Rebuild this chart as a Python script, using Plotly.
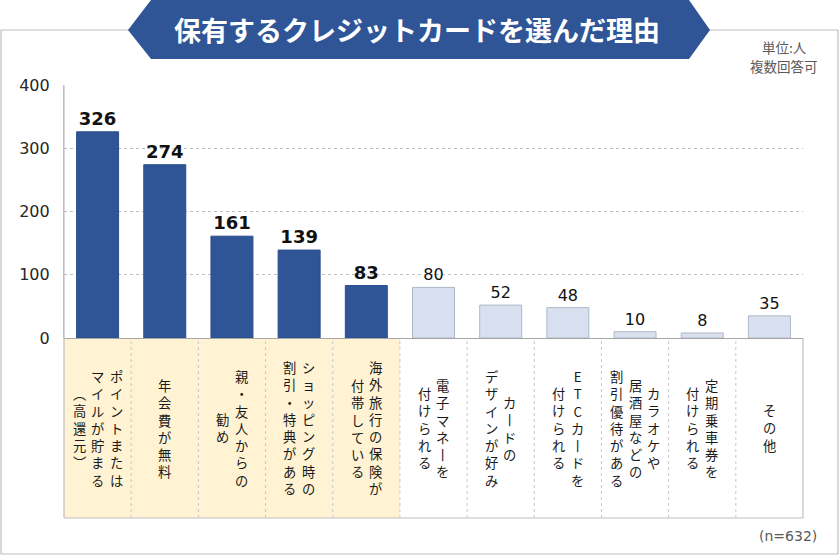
import plotly.graph_objects as go

# ---- data ----
labels = [
    "ポイントまたは\nマイルが貯まる\n（高還元）",
    "年会費が無料",
    "親・友人からの\n勧め",
    "ショッピング時の\n割引・特典がある",
    "海外旅行の保険が\n付帯している",
    "電子マネーを\n付けられる",
    "カードの\nデザインが好み",
    "ETCカードを\n付けられる",
    "カラオケや\n居酒屋などの\n割引優待がある",
    "定期乗車券を\n付けられる",
    "その他",
]
values = [326, 274, 161, 139, 83, 80, 52, 48, 10, 8, 35]
highlight = [True, True, True, True, True, False, False, False, False, False, False]
y_ticks = [0, 100, 200, 300, 400]
title_text = "保有するクレジットカードを選んだ理由"
unit_lines = ["単位:人", "複数回答可"]
n_text = "(n=632)"

# ---- style ----
DARK = "#2F5597"
LIGHT = "#D9E1F0"
YELLOW = "#FFF3D3"
GRID = "#BFBFBF"
JP = "Noto Sans CJK JP"
NUM = "DejaVu Sans"

W_PX, H_PX = 840, 556
L, R, T, B = 64, 803, 85, 338


def px(x):
    return (x - L) / (R - L)


def py(y):
    return (B - y) / (B - T)


cats = [s.replace("\n", "") for s in labels]

fig = go.Figure()
fig.add_trace(go.Bar(
    x=cats,
    y=values,
    marker=dict(
        color=[DARK if h else LIGHT for h in highlight],
        line=dict(color=["#2A4F8E" if h else "#AEB7C6" for h in highlight], width=1),
    ),
    text=[str(v) for v in values],
    textposition="outside",
    cliponaxis=False,
    textfont=dict(
        family=NUM,
        size=[18 if h else 16 for h in highlight],
        weight=["bold" if h else "normal" for h in highlight],
        color="#111111",
    ),
    hoverinfo="skip",
))

shapes = []
annotations = []

# outer frame
shapes.append(dict(type="rect", xref="paper", yref="paper",
                   x0=px(1), x1=px(838), y0=py(554), y1=py(30),
                   line=dict(color="#BFBFBF", width=1.2), layer="below"))

# title banner
path = (f"M {px(128)},{py(30)} L {px(151)},{py(0)} L {px(689)},{py(0)} "
        f"L {px(710)},{py(30)} L {px(689)},{py(59)} L {px(151)},{py(59)} Z")
shapes.append(dict(type="path", xref="paper", yref="paper", path=path,
                   fillcolor=DARK, line=dict(width=0), layer="above"))
annotations.append(dict(xref="paper", yref="paper", x=px(417), y=py(30),
                        text=f"<b>{title_text}</b>", showarrow=False,
                        font=dict(family=JP, size=27, color="white"),
                        xanchor="center", yanchor="middle"))

# label table
cell_top, cell_bot = py(338), py(518)
for i, h in enumerate(highlight):
    if h:
        shapes.append(dict(type="rect", xref="x", yref="paper",
                           x0=i - 0.5, x1=i + 0.5, y0=cell_bot, y1=cell_top,
                           fillcolor=YELLOW, line=dict(width=0), layer="below"))
for i in range(len(labels) - 1):
    shapes.append(dict(type="line", xref="x", yref="paper",
                       x0=i + 0.5, x1=i + 0.5, y0=cell_bot, y1=cell_top,
                       line=dict(color="#C8C8C8", width=1, dash="dot")))
shapes.append(dict(type="line", xref="paper", yref="paper", x0=0, x1=1,
                   y0=cell_bot, y1=cell_bot, line=dict(color="#BFBFBF", width=1.2)))
shapes.append(dict(type="line", xref="paper", yref="paper", x0=0, x1=0,
                   y0=cell_bot, y1=1, line=dict(color="#BFBFBF", width=1.2)))
shapes.append(dict(type="line", xref="paper", yref="paper", x0=1, x1=1,
                   y0=cell_bot, y1=cell_top, line=dict(color="#BFBFBF", width=1.2)))

# vertical (tategaki) labels
vert_map = {"（": "︵", "）": "︶", "ー": "丨"}
col_gap = 18.5
for i, lab in enumerate(labels):
    cols = lab.split("\n")
    n = len(cols)
    for j, col in enumerate(cols):
        chars = [vert_map.get(c, c) for c in col]
        annotations.append(dict(
            xref="x", yref="paper", x=cats[i], y=py(428),
            xshift=((n - 1) / 2 - j) * col_gap,
            text="<br>".join(chars), showarrow=False,
            xanchor="center", yanchor="middle", align="center",
            font=dict(family=JP, size=13.3, color="#1a1a1a"),
        ))

# unit note and n
for k, line in enumerate(unit_lines):
    annotations.append(dict(xref="paper", yref="paper", x=px(784), y=py(47 + 19 * k),
                            text=line, showarrow=False,
                            xanchor="center", yanchor="middle",
                            font=dict(family=JP, size=13.5, color="#595959")))
annotations.append(dict(xref="paper", yref="paper", x=px(819), y=py(536),
                        text=n_text, showarrow=False,
                        xanchor="right", yanchor="middle",
                        font=dict(family=NUM, size=14, color="#595959")))

fig.update_layout(
    width=W_PX, height=H_PX,
    margin=dict(l=L, r=W_PX - R, t=T, b=H_PX - B, pad=0),
    paper_bgcolor="white", plot_bgcolor="white",
    showlegend=False,
    bargap=0.375,
    shapes=shapes,
    annotations=annotations,
    xaxis=dict(showticklabels=False, showgrid=False, zeroline=False,
               showline=False, ticks="", range=[-0.5, len(labels) - 0.5]),
    yaxis=dict(range=[0, 400], tickvals=y_ticks, ticks="",
               showgrid=True, gridcolor=GRID, griddash="dot", gridwidth=1,
               zeroline=True, zerolinecolor="#A6A6A6", zerolinewidth=1.2,
               showline=True, linecolor="#BFBFBF", linewidth=1.2,
               ticklabelstandoff=10,
               tickfont=dict(family=NUM, size=16, color="#262626")),
)

fig.write_html(
    "out.html",
    config={"displayModeBar": False},
    post_script="document.body.style.margin='0';document.body.style.overflow='hidden';",
)
